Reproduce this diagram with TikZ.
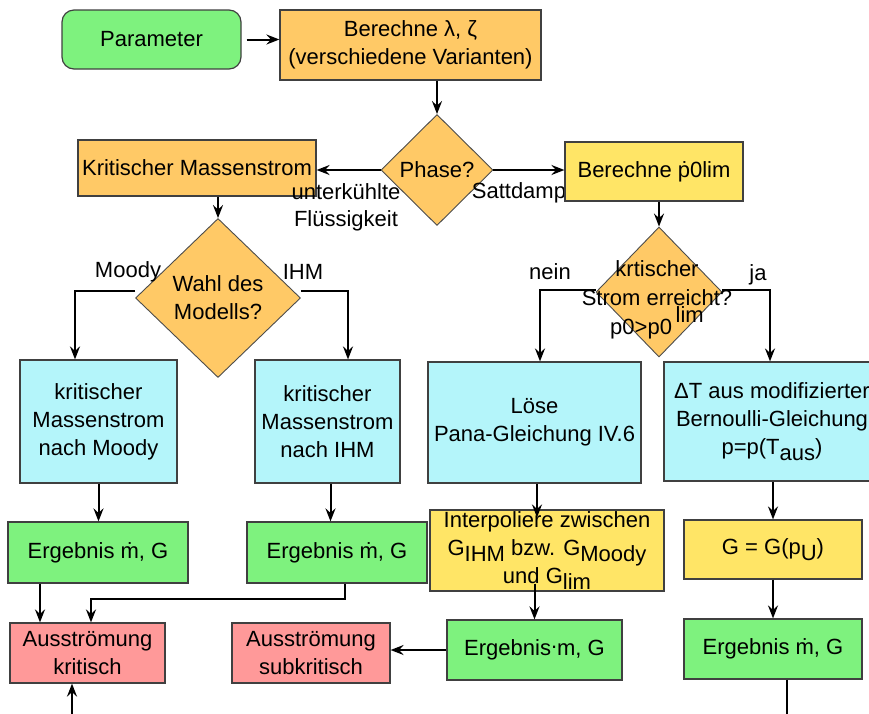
\documentclass[tikz,border=0pt]{standalone}
\usepackage{fontspec}
\setmainfont{Liberation Sans}
\usetikzlibrary{positioning, shapes.geometric, arrows.meta}

\definecolor{gruen}{RGB}{126,242,126}
\definecolor{orange}{RGB}{255,201,102}
\definecolor{gelb}{RGB}{255,229,102}
\definecolor{cyan}{RGB}{180,245,250}
\definecolor{rot}{RGB}{255,153,153}

\tikzset{
    kasten/.style={draw=black!75, line width=1.2pt, inner sep=2pt, align=center,
        font=\fontsize{22}{28}\selectfont},
    entscheid/.style={diamond, draw=black!70, line width=0.9pt, fill=orange,
        inner sep=0pt, align=center, font=\fontsize{22}{28}\selectfont},
    pfeil/.style={-{Stealth[length=13pt, width=10pt, inset=4.5pt]}, line width=2pt},
    linie/.style={line width=2pt},
    beschr/.style={inner sep=0pt, align=center, font=\fontsize{22}{27}\selectfont},
}
\newcommand{\tief}[1]{\raisebox{-6pt}{#1}}

\begin{document}
\begin{tikzpicture}[x=1pt, y=-1pt]
    \useasboundingbox (0, 0) rectangle (869, 713);

    %% Kopf
    \node[kasten, fill=gruen, rounded corners=12pt, minimum width=179, minimum height=59] (param) at (151.5, 39.5) {Parameter};
    \node[kasten, fill=orange, minimum width=261, minimum height=70] (lambda) at (410.5, 45) {Berechne λ, ζ\\(verschiedene Varianten)};
    \node[entscheid, minimum width=112, minimum height=111] (phase) at (437, 170) {Phase?};
    \node[kasten, fill=orange, minimum width=238, minimum height=56] (kms) at (197, 168) {Kritischer Massenstrom};

    % Labels
    \node[beschr] (unterk) at (346, 207) {unterkühlte\\Flüssigkeit};
    \node[beschr] (satt) at (522, 193) {Sattdampf};

    \node[kasten, fill=gelb, minimum width=178, minimum height=59] (p0lim) at (654, 171.5) {Berechne \.{p}0lim};

    % Transitions
    \draw[pfeil] ([xshift=5pt]param.east) -- (lambda.west |- param.east);
    \draw[pfeil] (phase.north |- lambda.south) -- (phase.north);
    \draw[pfeil] (phase.west) -- (kms.east |- phase.west);
    \draw[pfeil] (phase.east) -- (p0lim.west |- phase.east);

    %% Modellwahl
    \node[entscheid, minimum width=165, minimum height=159] (wahl) at (218, 298) {Wahl des\\Modells?};
    \node[entscheid, minimum width=126, minimum height=130] (krit) at (659, 292) {};
    \node[beschr, font=\fontsize{22}{29}\selectfont] (kritText) at (657, 300) {krtischer\\Strom erreicht?\\p0>p0\,\smash{\raisebox{12pt}{lim}}};

    \node[kasten, fill=cyan, minimum width=157, minimum height=123] (moody) at (98.5, 421.5) {kritischer\\Massenstrom\\nach Moody};
    \node[kasten, fill=cyan, minimum width=145, minimum height=123] (ihm) at (327.5, 421.5) {kritischer\\Massenstrom\\nach IHM};
    \node[kasten, fill=cyan, minimum width=213, minimum height=121] (loese) at (534.5, 422.5) {Löse\\Pana-Gleichung IV.6};
    \node[kasten, fill=cyan, minimum width=216, minimum height=119] (bern) at (772, 421.5) {ΔT aus modifizierter\\Bernoulli-Gleichung\\p=p(T\tief{aus})};

    % Transitions
    \draw[pfeil] (wahl.north |- kms.south) -- (wahl.north);
    \draw[pfeil] (krit.north |- p0lim.south) -- (krit.north);
    \draw[pfeil] ([yshift=7pt]wahl.west) -| ([xshift=-23.5pt]moody.north);
    \draw[pfeil] ([yshift=7pt]wahl.east) -| ([xshift=20.5pt]ihm.north);
    \draw[pfeil] ([yshift=2pt]krit.west) -| ([xshift=5.5pt]loese.north);
    \draw[pfeil] ([yshift=2pt]krit.east) -| ([xshift=-2pt]bern.north);

    % Labels
    \node[beschr] (lMoody) at (128, 272) {Moody};
    \node[beschr] (lIHM) at (303, 272) {IHM};
    \node[beschr] (lNein) at (550, 272) {nein};
    \node[beschr] (lJa) at (758, 275) {ja};

    %% Ergebnisse
    \node[kasten, fill=gruen, minimum width=180, minimum height=61] (erg1) at (98, 552.5) {Ergebnis \.{m}, G};
    \node[kasten, fill=gruen, minimum width=180, minimum height=61] (erg2) at (337, 552.5) {Ergebnis \.{m}, G};
    \node[kasten, fill=gelb, minimum width=234, minimum height=81, inner sep=0pt] (interp) at (547, 550.5) {Interpoliere zwischen\\G\tief{IHM} bzw. G\tief{Moody}\\und G\tief{lim}};
    \node[kasten, fill=gelb, minimum width=178, minimum height=59] (gpu) at (773, 549.5) {G = G(p\tief{U})};

    \node[kasten, fill=rot, minimum width=155, minimum height=60] (kritisch) at (87.5, 653) {Ausströmung\\kritisch};
    \node[kasten, fill=rot, minimum width=158, minimum height=60] (subkrit) at (311, 653) {Ausströmung\\subkritisch};
    \node[kasten, fill=gruen, minimum width=175, minimum height=60] (erg3) at (534.5, 650) {Ergebnis\raisebox{7pt}{.}m, G};
    \node[kasten, fill=gruen, minimum width=178, minimum height=60] (erg4) at (773, 649) {Ergebnis \.{m}, G};

    \coordinate (weiter) at (787, 720);
    \coordinate (zurueck) at (72, 720);

    % Transitions
    \draw[pfeil] (moody.south) -- (moody.south |- erg1.north);
    \draw[pfeil] ([xshift=3pt]ihm.south) -- ([xshift=3pt]ihm.south |- erg2.north);
    \draw[pfeil] ([xshift=2.5pt]loese.south) -- ([xshift=2.5pt, yshift=-8pt]loese.south |- interp.north);
    \draw[pfeil] (bern.south -| gpu.north) -- (gpu.north);
    \draw[pfeil] ([xshift=-58pt]erg1.south) -- ([xshift=-58pt]erg1.south |- kritisch.north);
    \draw[pfeil] ([xshift=8pt]erg2.south) -- ++(0, 15) -| ([xshift=3.5pt]kritisch.north);
    \draw[pfeil] ([yshift=8pt]interp.south -| erg3.north) -- (erg3.north);
    \draw[pfeil] (erg3.west) -- (subkrit.east |- erg3.west);
    \draw[pfeil] (gpu.south) -- (erg4.north);
    \draw[linie] (erg4.south -| weiter) -- (weiter);
    \draw[pfeil] (zurueck) -- (zurueck |- kritisch.south);
\end{tikzpicture}
\end{document}
